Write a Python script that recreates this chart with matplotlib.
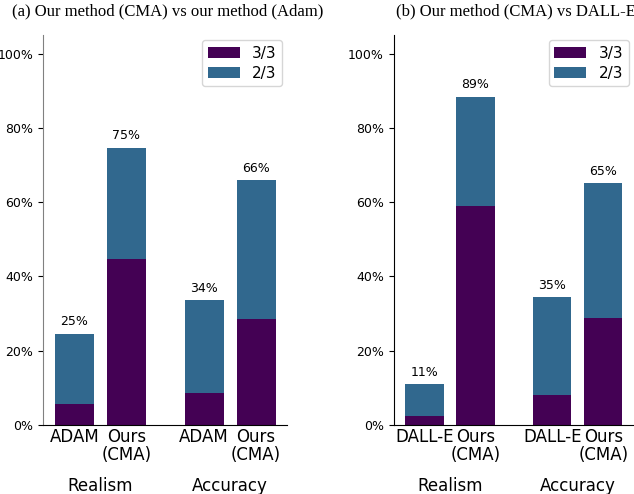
import matplotlib
matplotlib.use("Agg")
import matplotlib.pyplot as plt
from matplotlib.ticker import PercentFormatter
import matplotlib.transforms as mtrans

groups = ["Realism", "Accuracy"]
labels_a = ["ADAM", "Ours\n(CMA)", "ADAM", "Ours\n(CMA)"]
labels_b = ["DALL-E", "Ours\n(CMA)", "DALL-E", "Ours\n(CMA)"]
full_a = [5.6, 44.6, 8.6, 28.5]
two_a = [24.5, 74.7, 33.6, 65.9]
full_b = [2.4, 58.9, 8.1, 28.8]
two_b = [11.0, 88.4, 34.4, 65.1]
totals_a = ["25%", "75%", "34%", "66%"]
totals_b = ["11%", "89%", "35%", "65%"]
title_a = "(a) Our method (CMA) vs our method (Adam)"
title_b = "(b) Our method (CMA) vs DALL-E"

c3 = "#440154"
c2 = "#31688e"
pos = [0, 1, 2.5, 3.5]

fig = plt.figure(figsize=(6.34, 4.94), dpi=100)
ax_a = fig.add_axes([0.068, 0.1397, 0.385, 0.7895])
ax_b = fig.add_axes([0.621, 0.1397, 0.379, 0.7895])

def draw(ax, full, two, totals, labels, spine_color):
    ax.bar(pos, two, width=0.75, color=c2, label="2/3", zorder=1)
    ax.bar(pos, full, width=0.75, color=c3, label="3/3", zorder=2)
    for x, t, s in zip(pos, two, totals):
        ax.annotate(s, (x, t), xytext=(0, 4), textcoords="offset points",
                    ha="center", va="bottom", fontsize=9)
    ax.set_ylim(0, 105)
    ax.set_xlim(-0.6, 4.1)
    ax.yaxis.set_major_formatter(PercentFormatter(decimals=0))
    ax.set_yticks([0, 20, 40, 60, 80, 100])
    ax.tick_params(axis="y", labelsize=9)
    ax.set_xticks(pos)
    ax.set_xticklabels(labels, fontsize=12, linespacing=1.0)
    ax.tick_params(axis="x", length=0, pad=2)
    ax.spines["top"].set_visible(False)
    ax.spines["right"].set_visible(False)
    ax.spines["left"].set_color(spine_color)
    h, l = ax.get_legend_handles_labels()
    ax.legend(h[::-1], l[::-1], loc="upper right", fontsize=11,
              bbox_to_anchor=(1.0, 1.0), borderaxespad=0.35,
              handlelength=2.1, handletextpad=0.8, borderpad=0.35,
              labelspacing=0.35)
    trans = mtrans.blended_transform_factory(ax.transData, fig.transFigure)
    ax.text(0.5, 0.017, groups[0], transform=trans, ha="center", va="center", fontsize=12)
    ax.text(3.0, 0.017, groups[1], transform=trans, ha="center", va="center", fontsize=12)

draw(ax_a, full_a, two_a, totals_a, labels_a, "#808080")
draw(ax_b, full_b, two_b, totals_b, labels_b, "black")

fig.text(0.265, 0.976, title_a, ha="center", va="center", fontsize=12, family="Liberation Serif")
fig.text(0.813, 0.976, title_b, ha="center", va="center", fontsize=12, family="Liberation Serif")

fig.savefig("out.png", dpi=100)
